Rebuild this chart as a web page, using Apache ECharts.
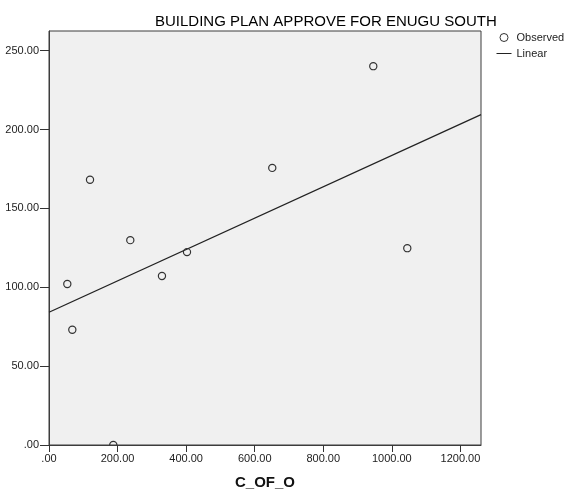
<!DOCTYPE html>
<html>
<head>
<meta charset="utf-8">
<script src="https://cdn.jsdelivr.net/npm/echarts@6/dist/echarts.min.js"></script>
<style>html,body{margin:0;padding:0;background:#fff;}#chart{width:565px;height:495px;}</style>
</head>
<body>
<div id="chart"></div>
<script>
// Observed data (C_OF_O vs building plans approved)
const cOfO = [53.4, 68.0, 119.6, 187.5, 237.1, 329.5, 402.5, 651.2, 945.8, 1045.0];
const approved = [102.1, 73.1, 168.2, 0.0, 129.9, 107.2, 122.3, 175.7, 240.2, 124.8];
const xTicks = [0, 200, 400, 600, 800, 1000, 1200];
const yTicks = [0, 50, 100, 150, 200, 250];
const xMax = 1260;
const yMax = 262.5;

// Linear fit (ordinary least squares) of the observed data
const n = cOfO.length;
const mx = cOfO.reduce((a, b) => a + b, 0) / n;
const my = approved.reduce((a, b) => a + b, 0) / n;
let sxy = 0, sxx = 0;
for (let i = 0; i < n; i++) { sxy += (cOfO[i] - mx) * (approved[i] - my); sxx += (cOfO[i] - mx) ** 2; }
const slope = sxy / sxx;
const intercept = my - slope * mx;
const fitLine = [[0, intercept], [xMax, intercept + slope * xMax]];
const points = cOfO.map((x, i) => [x, approved[i]]);

const fmt = v => { const s = Number(v).toFixed(2); return s.startsWith('0.') ? s.slice(1) : s; };
const FONT = "'Liberation Sans', Arial, sans-serif";

const chart = echarts.init(document.getElementById('chart'), null, { renderer: 'canvas' });
chart.setOption({
  animation: false,
  backgroundColor: '#ffffff',
  textStyle: { fontFamily: FONT },
  title: {
    text: 'BUILDING PLAN APPROVE FOR ENUGU SOUTH',
    left: 150, top: 9,
    textStyle: { fontFamily: FONT, fontSize: 15, fontWeight: 'normal', color: '#000' }
  },
  legend: {
    orient: 'vertical', left: 491, top: 27, itemGap: 5, itemWidth: 15, itemHeight: 8,
    textStyle: { fontFamily: FONT, fontSize: 11, color: '#222' },
    data: [
      { name: 'Observed', icon: 'circle', itemStyle: { color: '#fff', borderColor: '#333', borderWidth: 1 } },
      { name: 'Linear', itemStyle: { color: 'rgba(0,0,0,0)', borderColor: 'rgba(0,0,0,0)', borderWidth: 0 }, lineStyle: { color: '#222', width: 1 } }
    ]
  },
  grid: {
    left: 49, top: 31, right: 84, bottom: 48,
    show: true, backgroundColor: '#f0f0f0', borderColor: '#3c3c3c', borderWidth: 1
  },
  xAxis: {
    type: 'value', min: 0, max: xMax, interval: 200,
    name: 'C_OF_O', nameLocation: 'middle', nameGap: 30,
    nameTextStyle: { fontFamily: FONT, fontSize: 15, fontWeight: 'bold', color: '#111' },
    axisLine: { show: true, lineStyle: { color: '#3c3c3c', width: 1 } },
    axisTick: { show: true, length: 7, customValues: xTicks, lineStyle: { color: '#333' } },
    axisLabel: { customValues: xTicks, formatter: fmt, margin: 8, fontSize: 11, color: '#222', fontFamily: FONT },
    splitLine: { show: false }
  },
  yAxis: {
    type: 'value', min: 0, max: yMax, interval: 50,
    axisLine: { show: true, lineStyle: { color: '#3c3c3c', width: 1 } },
    axisTick: { show: true, length: 9, customValues: yTicks, lineStyle: { color: '#333' } },
    axisLabel: { customValues: yTicks, formatter: fmt, margin: 10, fontSize: 11, color: '#222', fontFamily: FONT },
    splitLine: { show: false }
  },
  series: [
    {
      name: 'Observed', type: 'custom', clip: true, data: points, z: 3,
      renderItem: function (params, api) {
        const p = api.coord([api.value(0), api.value(1)]);
        return {
          type: 'circle',
          shape: { cx: p[0], cy: p[1], r: 3.6 },
          style: { fill: 'none', stroke: '#333', lineWidth: 1.2 }
        };
      }
    },
    {
      name: 'Linear', type: 'line', data: fitLine, symbol: 'none', clip: true, z: 2,
      itemStyle: { color: '#222' },
      lineStyle: { color: '#222', width: 1.3 }
    }
  ]
});
</script>
</body>
</html>
